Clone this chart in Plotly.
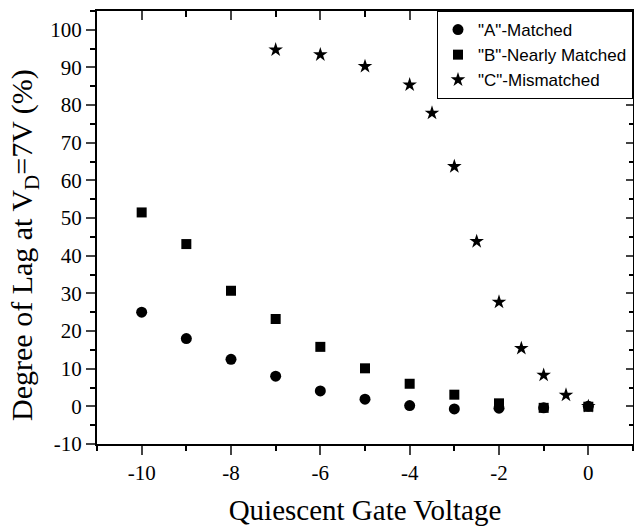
import plotly.graph_objects as go

# Data
x_a = [-10, -9, -8, -7, -6, -5, -4, -3, -2, -1, 0]
y_a = [25.0, 18.0, 12.5, 8.0, 4.1, 1.9, 0.2, -0.7, -0.5, -0.4, 0.0]

x_b = [-10, -9, -8, -7, -6, -5, -4, -3, -2, -1, 0]
y_b = [51.5, 43.1, 30.7, 23.2, 15.8, 10.1, 6.0, 3.1, 0.8, -0.4, -0.1]

x_c = [-7, -6, -5, -4, -3.5, -3, -2.5, -2, -1.5, -1, -0.5, 0]
y_c = [94.7, 93.4, 90.3, 85.4, 77.9, 63.7, 43.8, 27.7, 15.4, 8.3, 3.0, 0.0]

names = ['"A"-Matched', '"B"-Nearly Matched', '"C"-Mismatched']
x_range = [-11, 1]
y_range = [-10, 105]
x_ticks = [-10, -8, -6, -4, -2, 0]
x_ticktext = ["-10", "-8", "-6", "-4", "-2", "0"]
y_ticks = [-10, 0, 10, 20, 30, 40, 50, 60, 70, 80, 90, 100]
y_ticktext = ["-10", "0", "10", "20", "30", "40", "50", "60", "70", "80", "90", "100"]

SERIF = "Liberation Serif, Times New Roman, serif"
SANS = "Liberation Sans, Arial, sans-serif"

fig = go.Figure()
fig.add_trace(go.Scatter(x=x_a, y=y_a, mode="markers", name=names[0],
                         marker=dict(symbol="circle", size=11, color="black")))
fig.add_trace(go.Scatter(x=x_b, y=y_b, mode="markers", name=names[1],
                         marker=dict(symbol="square", size=10, color="black")))
fig.add_trace(go.Scatter(x=x_c, y=y_c, mode="markers", name=names[2],
                         marker=dict(symbol="star", size=11, color="black")))
# helper trace for mirrored (inward) top/right axes
fig.add_trace(go.Scatter(x=[], y=[], xaxis="x2", yaxis="y2", showlegend=False,
                         hoverinfo="skip"))

fig.update_layout(
    width=634, height=526,
    margin=dict(l=97, r=1, t=11, b=82),
    plot_bgcolor="white", paper_bgcolor="white",
    showlegend=True,
    legend=dict(x=1, y=1, xanchor="right", yanchor="top",
                bordercolor="black", borderwidth=1, bgcolor="white",
                font=dict(family=SANS, size=17, color="black")),
    xaxis=dict(range=x_range, tickvals=x_ticks, ticktext=x_ticktext,
               ticks="outside", ticklen=9, tickwidth=2,
               showline=True, linecolor="black", linewidth=2, showgrid=False, zeroline=False,
               tickfont=dict(family=SERIF, size=21, color="black"),
               minor=dict(dtick=1, tick0=0, ticks="outside", ticklen=5, tickwidth=2,
                          tickcolor="black", showgrid=False),
               title=dict(text="Quiescent Gate Voltage", standoff=16,
                          font=dict(family=SERIF, size=29, color="black"))),
    yaxis=dict(range=y_range, tickvals=y_ticks, ticktext=y_ticktext,
               ticks="outside", ticklen=9, tickwidth=2,
               showline=True, linecolor="black", linewidth=2, showgrid=False, zeroline=False,
               tickfont=dict(family=SERIF, size=21, color="black"),
               minor=dict(dtick=5, tick0=0, ticks="outside", ticklen=5, tickwidth=2,
                          tickcolor="black", showgrid=False)),
    xaxis2=dict(overlaying="x", side="top", range=x_range, tickvals=x_ticks,
                ticks="inside", ticklen=9, tickwidth=2, showticklabels=False,
                showline=True, linecolor="black", linewidth=2, showgrid=False, zeroline=False,
                minor=dict(dtick=1, tick0=0, ticks="inside", ticklen=6, tickwidth=2,
                           tickcolor="black", showgrid=False)),
    yaxis2=dict(overlaying="y", side="right", range=y_range, tickvals=y_ticks,
                ticks="inside", ticklen=7, tickwidth=2, showticklabels=False,
                showline=True, linecolor="black", linewidth=2, showgrid=False, zeroline=False,
                minor=dict(dtick=5, tick0=0, ticks="inside", ticklen=4, tickwidth=2,
                           tickcolor="black", showgrid=False)),
    annotations=[dict(text="Degree of Lag at V<sub>D</sub>=7V (%)", textangle=-90,
                      xref="paper", yref="paper", x=-0.136, y=0.46,
                      xanchor="center", yanchor="middle", showarrow=False,
                      font=dict(family=SERIF, size=30, color="black"))],
)

fig.write_html("out.html", config={"displayModeBar": False},
               post_script="document.body.style.margin='0';")
